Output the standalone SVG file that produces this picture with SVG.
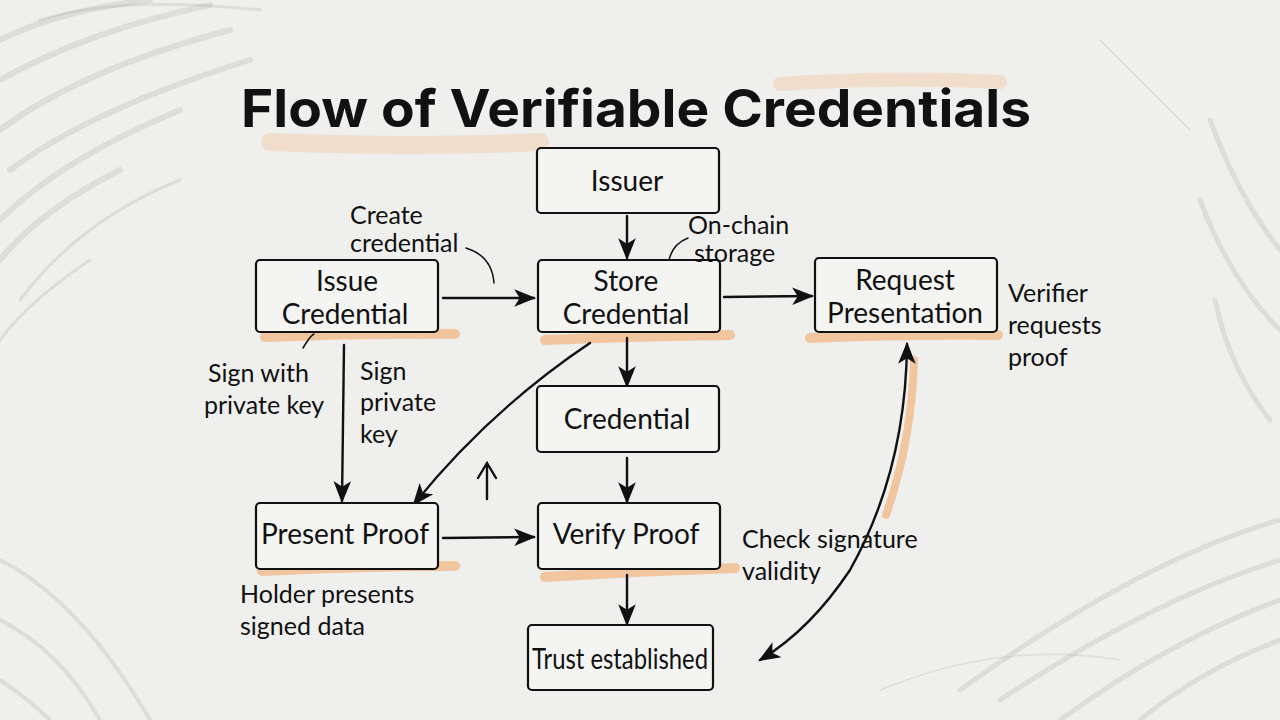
<svg xmlns="http://www.w3.org/2000/svg" width="1280" height="720" viewBox="0 0 1280 720">
<defs>
<style>
.box{fill:#f4f4f3;stroke:#111;stroke-width:2.2}
.lbl{font-family:Lato,"Noto Sans","Liberation Sans",sans-serif;font-size:28px;fill:#111;text-anchor:middle}
.note{font-family:Lato,"Noto Sans","Liberation Sans",sans-serif;font-size:25px;fill:#111}
.con{fill:none;stroke:#111;stroke-width:2.4;stroke-linecap:round}
.thin{fill:none;stroke:#111;stroke-width:1.5;stroke-linecap:round}
.hl{fill:none;stroke:#f2b47a;stroke-linecap:round;opacity:0.7}
.hlsoft{fill:none;stroke:#f2b47a;stroke-linecap:round;opacity:0.3}
.pencil{fill:none;stroke:#888;stroke-linecap:round;opacity:0.18}
</style>
<marker id="ahL" viewBox="0 0 20 20" refX="18" refY="10" markerWidth="22" markerHeight="22" orient="auto-start-reverse" markerUnits="userSpaceOnUse">
<path d="M0,2 L20,10 L0,18 L5,10 Z" fill="#111"/>
</marker>
</defs>
<rect width="1280" height="720" fill="#efefee"/>
<g id="background">
<path class="pencil" stroke-width="6" d="M0,40 Q60,10 150,0 M0,80 Q90,30 210,5 M0,130 Q80,70 230,30 M10,170 Q90,110 250,60 M0,220 Q60,160 180,110 M0,260 Q40,210 120,170"/>
<path class="pencil" stroke-width="3" d="M20,300 Q80,220 180,180 M0,340 Q30,300 90,260 M40,20 Q120,-5 260,10"/>
<path class="pencil" stroke-width="5" d="M1280,250 Q1240,200 1210,120 M1280,330 Q1230,280 1200,200 M1270,420 Q1230,370 1215,300"/>
<path class="pencil" stroke-width="5" d="M1280,560 Q1150,600 1000,700 M1280,600 Q1170,640 1060,720 M1280,640 Q1200,670 1140,720 M1280,520 Q1140,560 960,690"/>
<path class="pencil" stroke-width="4" d="M0,620 Q60,650 100,720 M0,560 Q80,600 150,720 M0,680 Q30,700 50,720"/>
<path class="pencil" stroke-width="1.5" d="M1100,40 Q1150,90 1190,130 M880,690 Q1000,640 1120,660"/>
</g>
<g id="highlights">
<path class="hlsoft" stroke-width="18" d="M270,142 Q420,148 540,142"/>
<path class="hlsoft" stroke-width="14" d="M780,84 Q900,76 1000,82"/>
<path class="hl" stroke-width="10" d="M265,337 Q360,333 455,334"/>
<path class="hl" stroke-width="10" d="M545,340 Q640,336 730,335"/>
<path class="hl" stroke-width="10" d="M810,338 Q900,334 998,335"/>
<path class="hl" stroke-width="10" d="M262,571 Q360,566 455,566"/>
<path class="hl" stroke-width="10" d="M545,577 Q640,571 735,568"/>
<path class="hl" stroke-width="8" d="M914,360 Q912,440 886,515"/>
</g>
<g id="title">
<text x="636" y="127" text-anchor="middle" font-family="Inter,'Liberation Sans',sans-serif" font-weight="700" font-size="52" fill="#111" textLength="790" lengthAdjust="spacingAndGlyphs">Flow of Verifiable Credentials</text>
</g>
<g id="connectors">
<line class="con" x1="627" y1="216" x2="627" y2="258" marker-end="url(#ahL)"/>
<line class="con" x1="443" y1="298" x2="534" y2="298" marker-end="url(#ahL)"/>
<line class="con" x1="724" y1="297" x2="812" y2="296" marker-end="url(#ahL)"/>
<line class="con" x1="627" y1="338" x2="627" y2="386" marker-end="url(#ahL)"/>
<line class="con" x1="627" y1="458" x2="627" y2="502" marker-end="url(#ahL)"/>
<line class="con" x1="443" y1="538" x2="534" y2="537" marker-end="url(#ahL)"/>
<line class="con" x1="627" y1="575" x2="627" y2="624" marker-end="url(#ahL)"/>
<path class="con" d="M344,345 L342,501" marker-end="url(#ahL)"/>
<path class="con" d="M590,343 Q490,410 414,504" marker-end="url(#ahL)"/>
<path class="con" d="M487,499 L487,463 M478,478 L487,463 L496,478"/>
<path class="con" stroke-width="2" d="M907,344 Q906,470 850,570 Q810,630 760,660" marker-start="url(#ahL)" marker-end="url(#ahL)"/>
<path class="thin" d="M466,248 Q492,256 494,283"/>
<path class="thin" d="M668,266 Q670,245 688,238"/>
<path class="thin" d="M303,348 Q310,336 314,334"/>
</g>
<g id="issuer"><rect class="box" x="537" y="148" width="182" height="65" rx="4"/><text class="lbl" x="627" y="191">Issuer</text></g>
<g id="issue-credential"><rect class="box" x="256" y="260" width="182" height="72" rx="4"/><text class="lbl" x="347" y="291">Issue</text><text class="lbl" x="345" y="324">Credential</text></g>
<g id="store-credential"><rect class="box" x="538" y="260" width="182" height="72" rx="4"/><text class="lbl" x="626" y="291">Store</text><text class="lbl" x="626" y="324">Credential</text></g>
<g id="request-presentation"><rect class="box" x="815" y="258" width="182" height="74" rx="4"/><text class="lbl" x="905" y="290">Request</text><text class="lbl" x="905" y="323">Presentation</text></g>
<g id="credential"><rect class="box" x="537" y="386" width="182" height="66" rx="4"/><text class="lbl" x="627" y="429">Credential</text></g>
<g id="present-proof"><rect class="box" x="256" y="503" width="182" height="66" rx="4"/><text class="lbl" x="345" y="544">Present Proof</text></g>
<g id="verify-proof"><rect class="box" x="538" y="503" width="182" height="66" rx="4"/><text class="lbl" x="626" y="544">Verify Proof</text></g>
<g id="trust-established"><rect class="box" x="528" y="625" width="185" height="65" rx="4"/><text class="lbl" x="620" y="669" font-size="24" textLength="176" lengthAdjust="spacingAndGlyphs">Trust established</text></g>
<g id="notes">
<text class="note" x="350" y="224">Create</text>
<text class="note" x="350" y="252">credential</text>
<text class="note" x="688" y="234">On-chain</text>
<text class="note" x="694" y="262">storage</text>
<text class="note" x="1008" y="302">Verifier</text>
<text class="note" x="1008" y="334">requests</text>
<text class="note" x="1008" y="366">proof</text>
<text class="note" x="208" y="382">Sign with</text>
<text class="note" x="204" y="414">private key</text>
<text class="note" x="360" y="380">Sign</text>
<text class="note" x="360" y="411">private</text>
<text class="note" x="360" y="443">key</text>
<text class="note" x="240" y="603">Holder presents</text>
<text class="note" x="240" y="635">signed data</text>
<text class="note" x="742" y="548">Check signature</text>
<text class="note" x="742" y="580">validity</text>
</g>
</svg>
